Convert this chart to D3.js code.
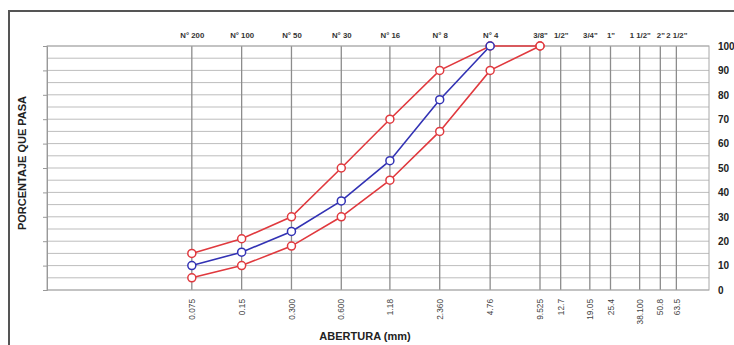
<!DOCTYPE html>
<html>
<head>
<meta charset="utf-8">
<script src="https://cdn.jsdelivr.net/npm/d3@7"></script>
<style>
  body { margin: 0; background: #fff; }
  svg { display: block; font-family: "Liberation Sans", Arial, sans-serif; }
</style>
</head>
<body>
<svg id="chart" width="734" height="345"></svg>
<script>
// sieve openings (mm) and their names
const sieves = [0.075, 0.15, 0.3, 0.6, 1.18, 2.36, 4.76, 9.525, 12.7, 19.05, 25.4, 38.1, 50.8, 63.5];
const sieveLabels = ["0.075", "0.15", "0.300", "0.600", "1.18", "2.360", "4.76", "9.525", "12.7", "19.05", "25.4", "38.100", "50.8", "63.5"];
const sieveNames = ["N° 200", "N° 100", "N° 50", "N° 30", "N° 16", "N° 8", "N° 4", "3/8\"", "1/2\"", "3/4\"", "1\"", "1 1/2\"", "2\"", "2 1/2\""];

// gradation curves (% passing)
const upperX = [0.075, 0.15, 0.3, 0.6, 1.18, 2.36, 4.76, 9.525];
const upperY = [15, 21, 30, 50, 70, 90, 100, 100];
const lowerX = [0.075, 0.15, 0.3, 0.6, 1.18, 2.36, 4.76, 9.525];
const lowerY = [5, 10, 18, 30, 45, 65, 90, 100];
const sampleX = [0.075, 0.15, 0.3, 0.6, 1.18, 2.36, 4.76];
const sampleY = [10, 15.5, 24, 36.5, 53, 78, 100];

const yTicks = [0, 10, 20, 30, 40, 50, 60, 70, 80, 90, 100];

const svg = d3.select("#chart");
const margin = {top: 46, right: 25, bottom: 55, left: 47};
const width = 734 - margin.left - margin.right,
  height = 345 - margin.top - margin.bottom;

// outer frame
svg.append("path")
  .attr("d", "M9,345 V11 H734")
  .attr("fill", "none")
  .attr("stroke", "#555")
  .attr("stroke-width", 2);

const g = svg.append("g").attr("transform", `translate(${margin.left},${margin.top})`);

const x = d3.scaleLog().domain([0.01, 100]).range([0, width]);
const y = d3.scaleLinear().domain([0, 100]).range([height, 0]);

// horizontal grid every 5
g.append("g")
  .selectAll("line")
  .data(d3.range(0, 101, 5))
  .enter().append("line")
  .attr("x1", 0).attr("x2", width)
  .attr("y1", d => y(d)).attr("y2", d => y(d))
  .attr("stroke", "#bdbdbd")
  .attr("stroke-width", 1);

// sieve verticals
g.append("g")
  .selectAll("line")
  .data(sieves)
  .enter().append("line")
  .attr("x1", d => x(d)).attr("x2", d => x(d))
  .attr("y1", 0).attr("y2", height)
  .attr("stroke", "#8c8c8c")
  .attr("stroke-width", 1.3);

// frame of plot area
g.append("rect")
  .attr("width", width).attr("height", height)
  .attr("fill", "none")
  .attr("stroke", "#a8a8a8");

// left axis ticks, no labels
g.append("g")
  .call(d3.axisLeft(y).tickValues(yTicks).tickSize(4).tickFormat(""))
  .call(s => s.selectAll("line").attr("stroke", "#999"))
  .call(s => s.select(".domain").attr("stroke", "#999"));

// right labels
g.append("g")
  .attr("transform", `translate(${width},0)`)
  .call(d3.axisRight(y).tickValues(yTicks).tickSize(0).tickPadding(9))
  .call(s => s.select(".domain").remove())
  .selectAll("text")
  .attr("font-size", 10)
  .attr("font-weight", "bold")
  .attr("fill", "#222");

// top sieve names
g.append("g")
  .call(d3.axisTop(x).tickValues(sieves).tickSize(0).tickPadding(8)
    .tickFormat((d, i) => sieveNames[i]))
  .call(s => s.select(".domain").remove())
  .selectAll("text")
  .attr("font-size", 7.8)
  .attr("font-weight", "bold")
  .attr("fill", "#333");

// bottom opening labels, rotated
g.append("g")
  .attr("transform", `translate(0,${height})`)
  .call(d3.axisBottom(x).tickValues(sieves).tickSize(0)
    .tickFormat((d, i) => sieveLabels[i]))
  .call(s => s.select(".domain").remove())
  .selectAll("text")
  .attr("font-size", 8.3)
  .attr("fill", "#444")
  .attr("text-anchor", "end")
  .attr("dy", "0.32em")
  .attr("transform", "translate(0,9) rotate(-90)")
  .attr("x", 0).attr("y", 0);

// axis titles
svg.append("text")
  .attr("x", 365).attr("y", 340)
  .attr("text-anchor", "middle")
  .attr("font-size", 11)
  .attr("font-weight", "bold")
  .attr("fill", "#222")
  .text("ABERTURA (mm)");

svg.append("text")
  .attr("transform", "translate(26,163) rotate(-90)")
  .attr("text-anchor", "middle")
  .attr("font-size", 11)
  .attr("font-weight", "bold")
  .attr("fill", "#222")
  .text("PORCENTAJE QUE PASA");

// curves
const series = [
  {xs: upperX, ys: upperY, color: "#e0393e"},
  {xs: lowerX, ys: lowerY, color: "#e0393e"},
  {xs: sampleX, ys: sampleY, color: "#3232b4"}
];
const line = d3.line().x(d => x(d[0])).y(d => y(d[1]));

series.forEach(s => {
  const pts = s.xs.map((v, i) => [v, s.ys[i]]);
  g.append("path")
    .datum(pts)
    .attr("d", line)
    .attr("fill", "none")
    .attr("stroke", s.color)
    .attr("stroke-width", 1.6);
  g.selectAll(null)
    .data(pts)
    .enter().append("circle")
    .attr("cx", d => x(d[0])).attr("cy", d => y(d[1]))
    .attr("r", 4)
    .attr("fill", "#fff")
    .attr("stroke", s.color)
    .attr("stroke-width", 1.5);
});
</script>
</body>
</html>
